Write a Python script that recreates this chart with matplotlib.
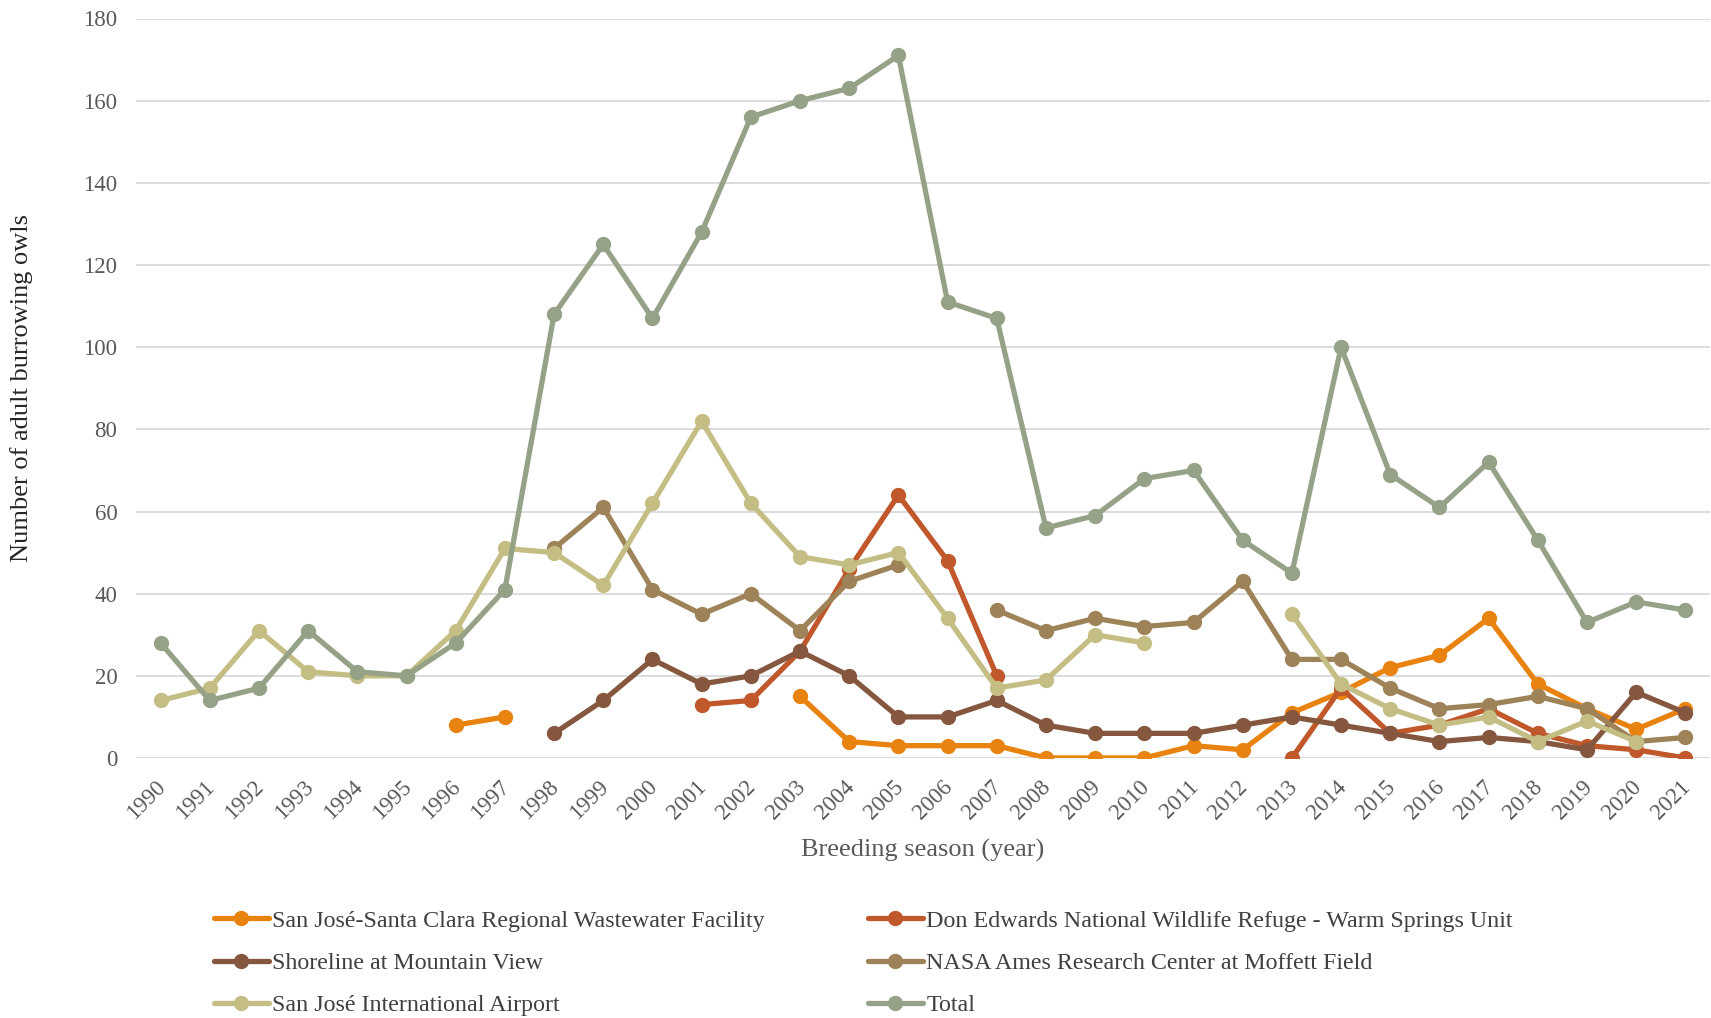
import numpy as np
import matplotlib
matplotlib.use('Agg')
import matplotlib.pyplot as plt
from matplotlib.transforms import ScaledTranslation

plt.rcParams['font.family'] = ['Liberation Serif', 'DejaVu Serif']

nan = np.nan
years = [str(y) for y in range(1990, 2022)]

# 各站点成年穴居猫头鹰数量 (缺测为 nan)
wastewater = [nan, nan, nan, nan, nan, nan, 8, 10, nan, nan, nan, nan, nan,
              15, 4, 3, 3, 3, 0, 0, 0, 3, 2, 11, 16, 22, 25, 34, 18, 12, 7, 12]
don_edwards = [nan] * 11 + [13, 14, 26, 46, 64, 48, 20, nan, nan, nan, nan, nan,
                            0, 17, 6, 8, 12, 6, 3, 2, 0]
shoreline = [nan] * 8 + [6, 14, 24, 18, 20, 26, 20, 10, 10, 14, 8, 6, 6, 6, 8,
                         10, 8, 6, 4, 5, 4, 2, 16, 11]
nasa = [nan] * 8 + [51, 61, 41, 35, 40, 31, 43, 47, nan, 36, 31, 34, 32, 33, 43,
                    24, 24, 17, 12, 13, 15, 12, 4, 5]
airport = [14, 17, 31, 21, 20, 20, 31, 51, 50, 42, 62, 82, 62, 49, 47, 50, 34,
           17, 19, 30, 28, nan, nan, 35, 18, 12, 8, 10, 4, 9, 4, nan]
total = [28, 14, 17, 31, 21, 20, 28, 41, 108, 125, 107, 128, 156, 160, 163, 171,
         111, 107, 56, 59, 68, 70, 53, 45, 100, 69, 61, 72, 53, 33, 38, 36]

series = [
    ('San José-Santa Clara Regional Wastewater Facility', wastewater, '#E8830F'),
    ('Don Edwards National Wildlife Refuge - Warm Springs Unit', don_edwards, '#C0582B'),
    ('Shoreline at Mountain View', shoreline, '#85573F'),
    ('NASA Ames Research Center at Moffett Field', nasa, '#9E8258'),
    ('San José International Airport', airport, '#C4BE84'),
    ('Total', total, '#95A288'),
]

W, H = 1711, 1018
fig = plt.figure(figsize=(W / 100, H / 100), dpi=100)
ax = fig.add_axes([136 / W, 1 - 758 / H, 1574 / W, (758 - 18.5) / H])

x = np.arange(len(years))
handles = []
for name, vals, col in series:
    h, = ax.plot(x, np.array(vals, dtype=float), '-o', color=col, linewidth=3.8,
                 markersize=10, label=name, solid_capstyle='round')
    handles.append(h)

ax.set_xlim(-0.5, len(years) - 0.5)
ax.set_ylim(0, 180)
ax.set_yticks(range(0, 181, 20))
ax.set_xticks(x)
ax.set_xticklabels(years, rotation=45, ha='right', rotation_mode='anchor')
ax.grid(axis='y', color='#D9D9D9', linewidth=1.3)
ax.set_axisbelow(True)
for s in ax.spines.values():
    s.set_visible(False)
ax.tick_params(length=0, labelsize=16.5, labelcolor='#595959')
ax.tick_params(axis='y', pad=13.5)
ax.tick_params(axis='x', pad=13.5)

# 年份标签稍微左移
shift = ScaledTranslation(-4 / 72, 0, fig.dpi_scale_trans)
for lab in ax.get_xticklabels():
    lab.set_transform(lab.get_transform() + shift)

# 坐标轴标题
fig.text(22 / W, 1 - 388 / H, 'Number of adult burrowing owls', rotation=90,
         ha='center', va='center', fontsize=19, color='#262626')
fig.text(923 / W, 1 - 850 / H, 'Breeding season (year)',
         ha='center', va='center', fontsize=19, color='#595959')

# 图例：Excel 按行排列，matplotlib 按列填充，所以重新排序
order = [0, 2, 4, 1, 3, 5]
fig.legend([handles[i] for i in order], [series[i][0] for i in order],
           loc='upper left', bbox_to_anchor=(214 / W, 1 - 910 / H),
           ncol=2, frameon=False, fontsize=17.3, labelcolor='#404040',
           handlelength=2.28, handletextpad=0.14, columnspacing=4.3,
           labelspacing=0.85, borderpad=0, borderaxespad=0)

plt.savefig('out.png', dpi=100)
